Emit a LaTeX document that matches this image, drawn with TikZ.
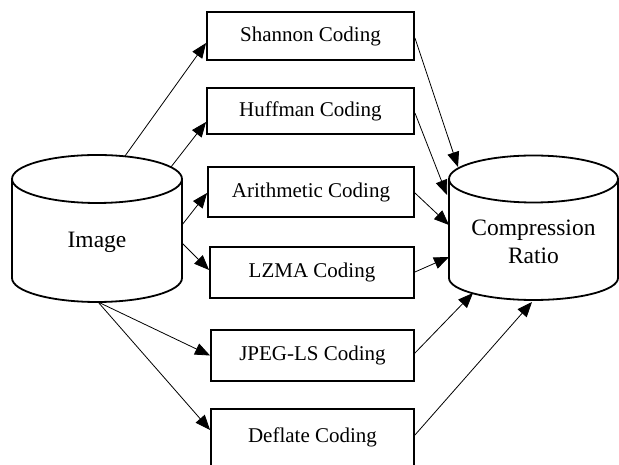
\documentclass[tikz,border=0pt]{standalone}
\usepackage{fontspec}
\setmainfont{Liberation Serif}
\usetikzlibrary{arrows.meta}
\begin{document}
\begin{tikzpicture}[x=1pt,y=1pt,
  codebox/.style={draw,line width=1.9pt,inner sep=0pt,font=\fontsize{21}{25}\selectfont},
  cyl/.style={draw,line width=1.8pt},
  conn/.style={line width=0.8pt,-{Triangle[length=15pt 0,width=12pt 0]}},
  cyltext/.style={align=center,font=\fontsize{23.5}{28}\selectfont}]
\useasboundingbox (0,0) rectangle (619,465);
% Image cylinder
\draw[cyl] (12,286) -- (12,187) arc[start angle=180,end angle=360,x radius=85,y radius=24] -- (182,286);
\draw[cyl] (97,286) ellipse[x radius=85,y radius=24];
\node[cyltext] (img) at (97,223) {Image};
% Compression cylinder
\draw[cyl] (449,286) -- (449,187) arc[start angle=180,end angle=360,x radius=84.5,y radius=22] -- (618,286);
\draw[cyl] (533.5,286) ellipse[x radius=84.5,y radius=23.5];
\node[cyltext] (cr) at (533.5,223) {Compression\\Ratio};
% boxes
\node[codebox,minimum width=207pt,minimum height=48pt] (sh) at (310.5,429) {Shannon Coding};
\node[codebox,minimum width=207pt,minimum height=46pt] (hu) at (310.5,354) {Huffman Coding};
\node[codebox,minimum width=206pt,minimum height=50pt] (ar) at (311,273) {Arithmetic Coding};
\node[codebox,minimum width=204pt,minimum height=51pt] (lz) at (312,192.5) {LZMA Coding};
\node[codebox,minimum width=203pt,minimum height=51pt] (jp) at (312.5,109.5) {JPEG-LS Coding};
\node[codebox,minimum width=203pt,minimum height=57pt] (de) at (312.5,27.5) {Deflate Coding};
% connection points on Image
\coordinate (i1) at (125,309);
\coordinate (i2) at (171,298);
\coordinate (i3) at (182,240);
\coordinate (i4) at (182,222);
\coordinate (i5) at (98,163);
% connection points on Compression Ratio
\coordinate (c1) at (458,298);
\coordinate (c2) at (447,270);
\coordinate (c3) at (449,240);
\coordinate (c4) at (449,208);
\coordinate (c5) at (473,172);
\coordinate (c6) at (532,163);
% left connectors
\draw[conn] (i1) -- ([yshift=-7pt]sh.west);
\draw[conn] (i2) -- ([yshift=-11pt]hu.west);
\draw[conn] (i3) -- ([yshift=-1pt]ar.west);
\draw[conn] (i4) -- ([yshift=2.5pt]lz.west);
\draw[conn] (i5) -- (jp.west);
\draw[conn] (i5) -- ([yshift=7.5pt]de.west);
% right connectors
\draw[conn] ([yshift=-2pt]sh.east) -- (c1);
\draw[conn] ([yshift=-2pt]hu.east) -- (c2);
\draw[conn] ([yshift=-1pt]ar.east) -- (c3);
\draw[conn] ([yshift=0.5pt]lz.east) -- (c4);
\draw[conn] ([yshift=2.5pt]jp.east) -- (c5);
\draw[conn] ([yshift=2.5pt]de.east) -- (c6);
\end{tikzpicture}
\end{document}
